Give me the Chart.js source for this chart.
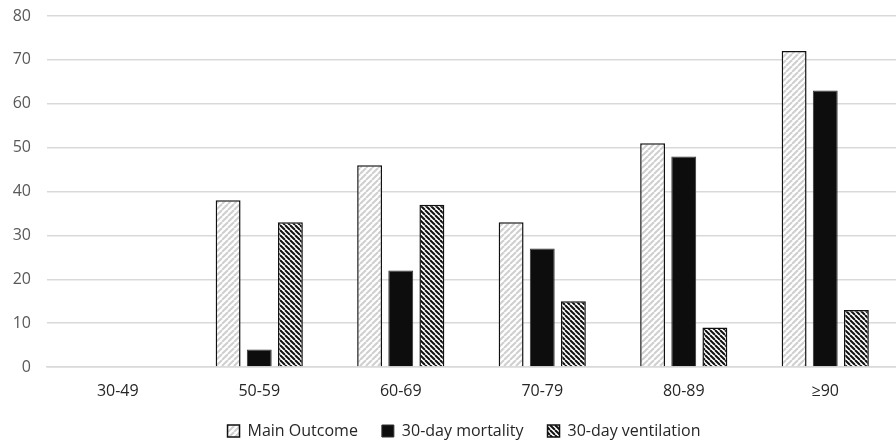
<!DOCTYPE html>
<html><head><meta charset="utf-8">
<script src="https://cdn.jsdelivr.net/npm/chart.js@4"></script>
<style>html,body{margin:0;padding:0;background:#fff}#wrap{width:896px;height:441px}</style>
</head><body><div id="wrap"><canvas id="c"></canvas></div>
<script>
const categories = ['30-49','50-59','60-69','70-79','80-89','≥90'];
const mainOutcome = [0,38,46,33,51,72];
const mortality30 = [0,4,22,27,48,63];
const ventilation30 = [0,33,37,15,9,13];

function stripes(bg, fg, size, lw, dir){
  const c = document.createElement('canvas');
  c.width = size; c.height = size;
  const x = c.getContext('2d');
  x.fillStyle = bg; x.fillRect(0,0,size,size);
  x.strokeStyle = fg; x.lineWidth = lw;
  for (let k=-1;k<=1;k++){
    x.beginPath();
    if (dir>0){ x.moveTo(k*size, size); x.lineTo(k*size+size, 0); }
    else { x.moveTo(k*size, 0); x.lineTo(k*size+size, size); }
    x.stroke();
  }
  return x.createPattern(c,'repeat');
}
const ctx = document.getElementById('c').getContext('2d');
const patMain = stripes('#ffffff','#cfcfcf',6,2,1);
const patVent = stripes('#ffffff','#111111',5,2,-1);

const shiftLegend = {
  id:'shiftLegend',
  afterLayout(chart){ const l = chart.legend; if (l){ l.left += 16; l.right += 16; } }
};

Chart.defaults.font.family = '"Open Sans", Lato, sans-serif';
Chart.defaults.color = '#595959';
new Chart(ctx,{
  type:'bar',
  data:{labels:categories,datasets:[
    {label:'Main Outcome',data:mainOutcome,backgroundColor:patMain,borderColor:'#111',borderWidth:1.5},
    {label:'30-day mortality',data:mortality30,backgroundColor:'#0d0d0d',borderColor:'#333',borderWidth:1},
    {label:'30-day ventilation',data:ventilation30,backgroundColor:patVent,borderColor:'#111',borderWidth:1.5}
  ]},
  plugins:[shiftLegend],
  options:{
    responsive:true,maintainAspectRatio:false,animation:false,
    layout:{padding:0},
    datasets:{bar:{categoryPercentage:0.66,barPercentage:0.8}},
    plugins:{legend:{position:'bottom',maxHeight:42,labels:{boxWidth:12,boxHeight:12,font:{size:16},padding:24,color:'#262626'}},tooltip:{enabled:false}},
    scales:{
      x:{grid:{display:false,drawTicks:false},border:{color:'#d9d9d9',width:1.5},ticks:{font:{size:16},color:'#262626',padding:15},
         afterFit(s){ s.height = 32; }},
      y:{min:0,max:80,afterFit(s){ s.width = 47; s.paddingTop = 16; },ticks:{stepSize:10,font:{size:16},color:'#595959',padding:16},grid:{color:'#d9d9d9',lineWidth:1.5,drawTicks:false},border:{display:false}}
    }
  }
});
</script></body></html>
